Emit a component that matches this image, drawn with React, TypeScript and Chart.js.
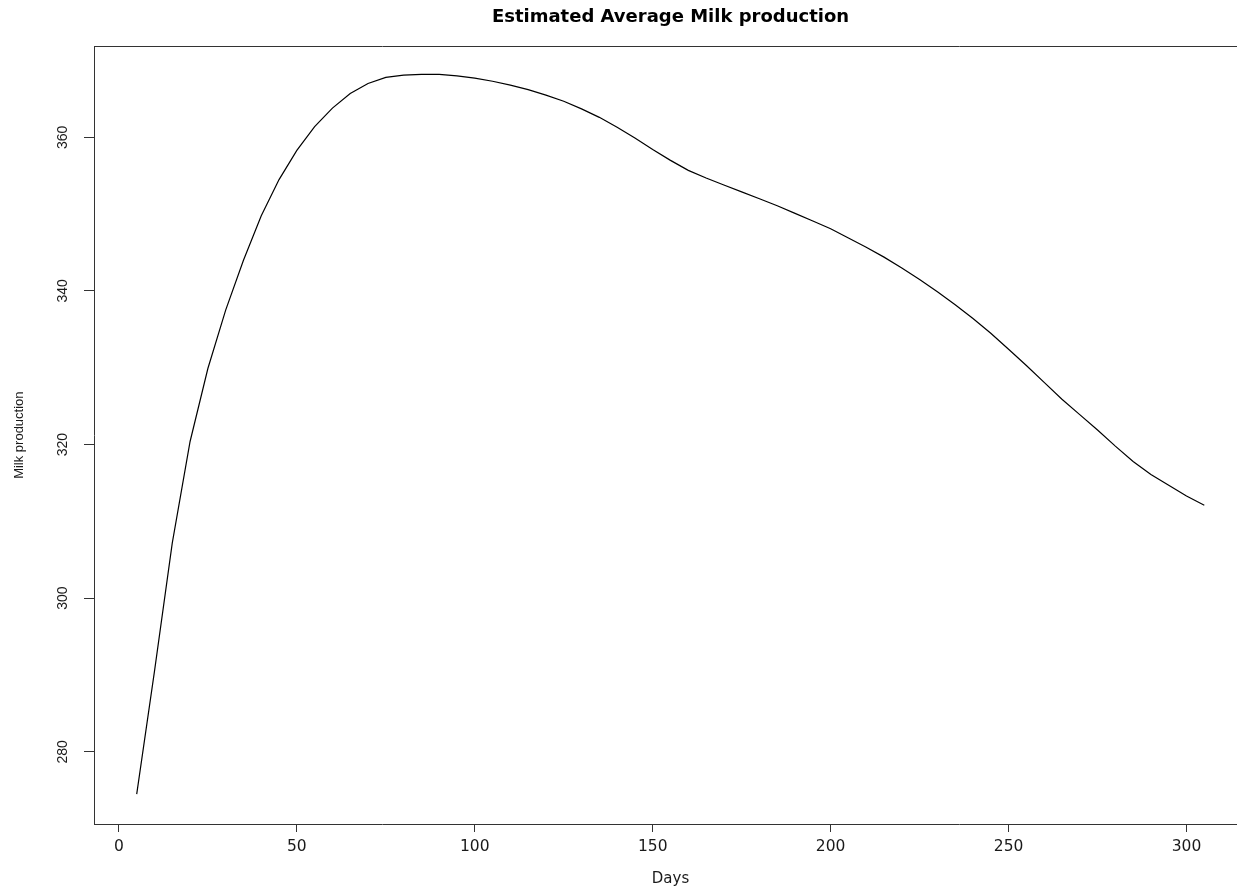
import { useEffect, useRef } from "react";
import { Chart, registerables } from "chart.js";

Chart.register(...registerables);

const TITLE = "Estimated Average Milk production";
const X_LABEL = "Days";
const Y_LABEL = "Milk production";

const days = [
  5, 10, 15, 20, 25, 30, 35, 40, 45, 50, 55, 60, 65, 70, 75, 80, 85, 90, 95, 100,
  105, 110, 115, 120, 125, 130, 135, 140, 145, 150, 155, 160, 165, 170, 175, 180,
  185, 190, 195, 200, 205, 210, 215, 220, 225, 230, 235, 240, 245, 250, 255, 260,
  265, 270, 275, 280, 285, 290, 295, 300, 305,
];

const milk = [
  274.5, 290.5, 307.2, 320.4, 329.9, 337.5, 344.0, 349.8, 354.5, 358.3, 361.4,
  363.8, 365.7, 367.0, 367.8, 368.1, 368.2, 368.2, 368.0, 367.7, 367.3, 366.8,
  366.2, 365.5, 364.7, 363.7, 362.6, 361.3, 359.9, 358.4, 357.0, 355.7, 354.7,
  353.8, 352.9, 352.0, 351.1, 350.1, 349.1, 348.1, 346.9, 345.7, 344.4, 343.0,
  341.5, 339.9, 338.2, 336.4, 334.5, 332.4, 330.3, 328.1, 325.9, 323.9, 321.9,
  319.8, 317.8, 316.1, 314.7, 313.3, 312.1,
];

const xTicks = [0, 50, 100, 150, 200, 250, 300];
const yTicks = [280, 300, 320, 340, 360];

const AXIS_COLOR = "#333333";
const TEXT_COLOR = "#1a1a1a";

export default function App() {
  const canvasRef = useRef<HTMLCanvasElement | null>(null);

  useEffect(() => {
    if (!canvasRef.current) return;
    const points = days.map((d, i) => ({ x: d, y: milk[i] }));
    const chart = new Chart(canvasRef.current, {
      type: "scatter",
      data: {
        datasets: [
          {
            data: points,
            showLine: true,
            borderColor: "#000000",
            borderWidth: 1.2,
            pointRadius: 0,
            pointHoverRadius: 0,
            tension: 0,
            fill: false,
          },
        ],
      },
      options: {
        responsive: true,
        maintainAspectRatio: false,
        animation: false,
        events: [],
        layout: { padding: { left: 0, right: 3, top: 0, bottom: 0 } },
        plugins: {
          legend: { display: false },
          tooltip: { enabled: false },
          title: {
            display: true,
            text: TITLE,
            fullSize: false,
            color: "#000000",
            font: { family: "'DejaVu Sans', sans-serif", size: 18, weight: "bold", lineHeight: 1.2 },
            padding: { top: 6.5, bottom: 18.2 },
          },
        },
        scales: {
          x: {
            type: "linear",
            position: "bottom",
            min: -7,
            max: 317,
            afterBuildTicks: (scale: any) => {
              scale.ticks = xTicks.map((v) => ({ value: v }));
            },
            afterFit: (scale: any) => {
              scale.height = 63;
            },
            grid: {
              drawOnChartArea: false,
              drawTicks: true,
              tickLength: 8,
              color: AXIS_COLOR,
              lineWidth: 1,
            },
            border: { display: true, color: AXIS_COLOR, width: 1 },
            ticks: {
              color: TEXT_COLOR,
              font: { family: "'DejaVu Sans', sans-serif", size: 15.5 },
              padding: 6,
              maxRotation: 0,
              minRotation: 0,
              autoSkip: false,
            },
            title: {
              display: true,
              text: X_LABEL,
              color: TEXT_COLOR,
              font: { family: "'DejaVu Sans', sans-serif", size: 15, lineHeight: 1 },
              padding: { top: 0, bottom: 0.5 },
            },
          },
          xTop: {
            type: "linear",
            position: "top",
            min: -7,
            max: 317,
            afterFit: (scale: any) => {
              scale.height = 0;
            },
            grid: { display: false, drawOnChartArea: false, drawTicks: false },
            border: { display: true, color: AXIS_COLOR, width: 1 },
            ticks: { display: false },
          },
          y: {
            type: "linear",
            position: "left",
            min: 270.6,
            max: 371.85,
            afterBuildTicks: (scale: any) => {
              scale.ticks = yTicks.map((v) => ({ value: v }));
            },
            afterFit: (scale: any) => {
              scale.width = 94;
            },
            grid: {
              drawOnChartArea: false,
              drawTicks: true,
              tickLength: 10,
              color: AXIS_COLOR,
              lineWidth: 1,
            },
            border: { display: true, color: AXIS_COLOR, width: 1 },
            ticks: {
              color: TEXT_COLOR,
              font: { family: "'Liberation Sans', Arial, sans-serif", size: 14 },
              padding: 9.5,
              minRotation: 90,
              maxRotation: 90,
              crossAlign: "center",
              autoSkip: false,
            },
            title: {
              display: true,
              text: Y_LABEL,
              color: TEXT_COLOR,
              font: { family: "'Liberation Sans', Arial, sans-serif", size: 13, lineHeight: 1.2 },
              padding: { top: 11.5, bottom: 0 },
            },
          },
        },
      } as any,
    });
    return () => {
      chart.destroy();
    };
  }, []);

  return (
    <div
      style={{
        position: "fixed",
        left: 0,
        top: 0,
        width: 1250,
        height: 887,
        background: "#ffffff",
      }}
    >
      <canvas ref={canvasRef} />
    </div>
  );
}
